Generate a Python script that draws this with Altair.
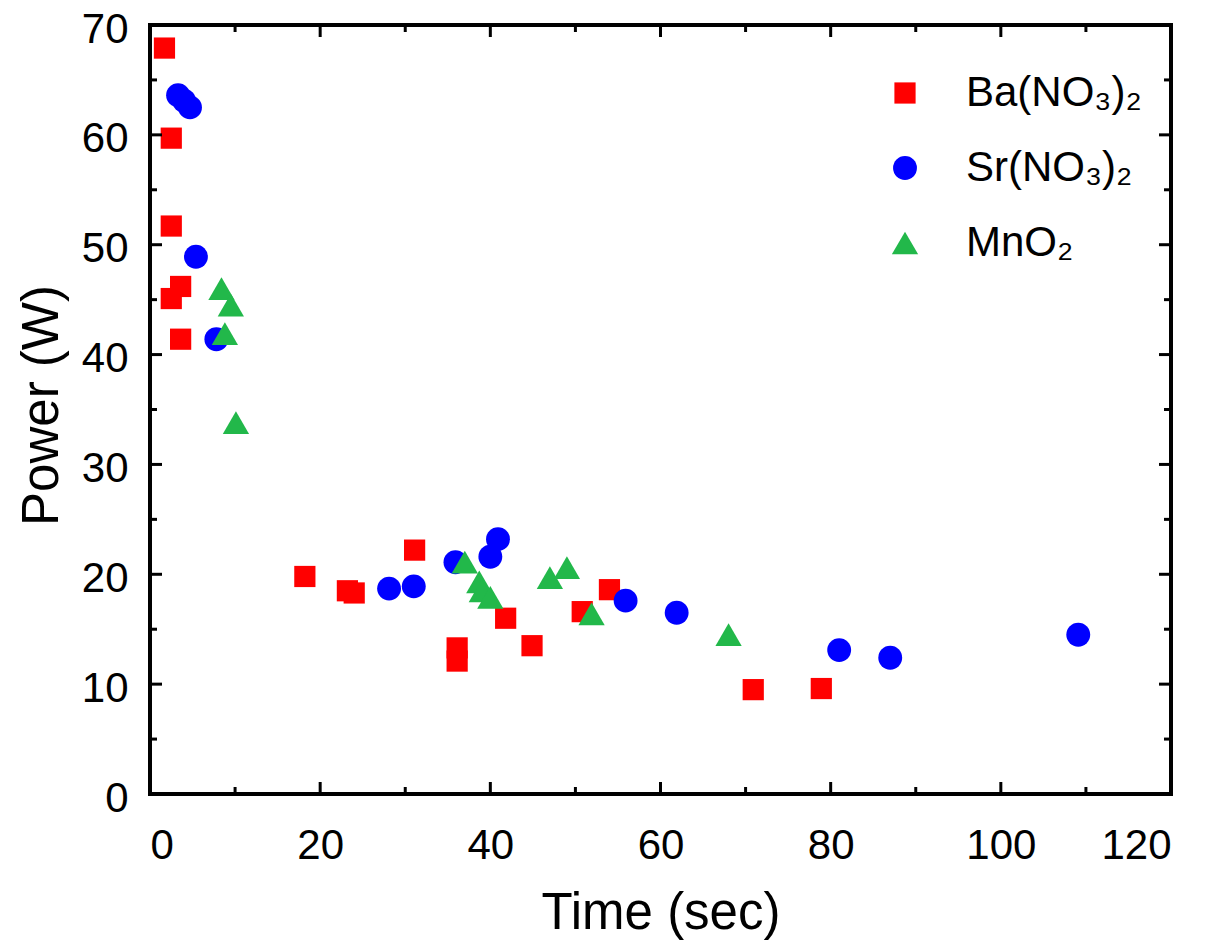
import altair as alt
import pandas as pd

series_names = ["Ba(NO₃)₂", "Sr(NO₃)₂", "MnO₂"]

ba_x = [1.7, 2.5, 2.5, 3.6, 2.5, 3.6, 18.2, 23.2, 24.0, 31.1, 36.1, 36.1, 41.8, 44.9, 50.8, 54.0, 70.9, 78.9]
ba_y = [67.9, 59.7, 51.7, 46.2, 45.1, 41.4, 19.8, 18.5, 18.3, 22.2, 13.3, 12.1, 16.0, 13.5, 16.6, 18.6, 9.5, 9.6]

sr_x = [3.3, 4.0, 4.7, 5.4, 7.8, 28.1, 31.0, 35.9, 40.0, 40.9, 55.9, 61.9, 81.0, 87.0, 109.1]
sr_y = [63.6, 63.1, 62.5, 48.9, 41.4, 18.7, 18.9, 21.1, 21.6, 23.2, 17.6, 16.5, 13.1, 12.4, 14.5]

mn_x = [8.4, 9.5, 8.8, 10.1, 37.0, 38.7, 39.0, 40.0, 47.0, 49.0, 51.9, 68.0]
mn_y = [46.0, 44.5, 41.9, 33.8, 21.1, 19.3, 18.5, 17.9, 19.7, 20.6, 16.4, 14.5]

x_major = [0, 20, 40, 60, 80, 100, 120]
x_minor = [10, 30, 50, 70, 90, 110]
y_major = [0, 10, 20, 30, 40, 50, 60, 70]
y_minor = [5, 15, 25, 35, 45, 55, 65]

colors = ["#FF0000", "#0000FF", "#22B84A"]
shapes = ["square", "circle", "triangle-up"]
sizes = [450, 690, 930]

W, H = 1021, 769
FONT = "Liberation Sans"

rows = []
for name, xs_, ys_ in zip(series_names, [ba_x, sr_x, mn_x], [ba_y, sr_y, mn_y]):
    for a, b in zip(xs_, ys_):
        rows.append({"series": name, "time": a, "power": b})
df = pd.DataFrame(rows)
df["idx"] = range(len(df))

xs = alt.Scale(domain=[0, 120], nice=False, zero=False)
ys = alt.Scale(domain=[0, 70], nice=False, zero=False)

legend = alt.Legend(
    title=None, orient="none", legendX=734, legendY=47,
    labelFont=FONT, labelFontSize=42, labelColor="black", labelLimit=400,
    labelOffset=40, rowPadding=33, padding=0, symbolStrokeWidth=0,
    symbolOpacity=1,
)

points = alt.Chart(df).mark_point(filled=True, opacity=1, strokeWidth=0).encode(
    x=alt.X("time:Q", scale=xs, axis=alt.Axis(
        values=x_major, title="Time (sec)", format="d",
        labelPadding=31, titleBaseline="alphabetic", titleY=134,
    )),
    y=alt.Y("power:Q", scale=ys, axis=alt.Axis(
        values=y_major, title="Power (W)", format="d",
        labelPadding=22, labelOffset=4, titleBaseline="alphabetic", titleAngle=270,
        titleX=-93, titleY=380,
    )),
    color=alt.Color("series:N", scale=alt.Scale(domain=series_names, range=colors), legend=legend),
    shape=alt.Shape("series:N", scale=alt.Scale(domain=series_names, range=shapes), legend=legend),
    size=alt.Size("series:N", scale=alt.Scale(domain=series_names, range=sizes), legend=legend),
    order=alt.Order("idx:Q"),
)


def xticks(vals, length):
    d = pd.DataFrame({"time": vals})
    base = alt.Chart(d).mark_rule(color="black", strokeWidth=3)
    bottom = base.encode(x=alt.X("time:Q", scale=xs), y=alt.value(H), y2=alt.value(H - length))
    top = base.encode(x=alt.X("time:Q", scale=xs), y=alt.value(0), y2=alt.value(length))
    return [bottom, top]


def yticks(vals, length):
    d = pd.DataFrame({"power": vals})
    base = alt.Chart(d).mark_rule(color="black", strokeWidth=3)
    left = base.encode(y=alt.Y("power:Q", scale=ys), x=alt.value(0), x2=alt.value(length))
    right = base.encode(y=alt.Y("power:Q", scale=ys), x=alt.value(W), x2=alt.value(W - length))
    return [left, right]


layers = [points] + xticks(x_major, 12) + xticks(x_minor, 7) + yticks(y_major, 12) + yticks(y_minor, 7)

chart = alt.layer(*layers).properties(
    width=W, height=H,
    autosize=alt.AutoSizeParams(type="none"),
    padding={"left": 142, "top": 17, "right": 30, "bottom": 150},
    background="white",
).configure_view(
    stroke="black", strokeWidth=4,
).configure_axis(
    ticks=False, tickSize=0, domain=False, grid=False,
    labelFont=FONT, labelFontSize=42, labelColor="black",
    titleFont=FONT, titleFontSize=51, titleFontWeight="normal", titleColor="black",
)

chart.save("out.html", embed_options={"renderer": "svg", "actions": False})
